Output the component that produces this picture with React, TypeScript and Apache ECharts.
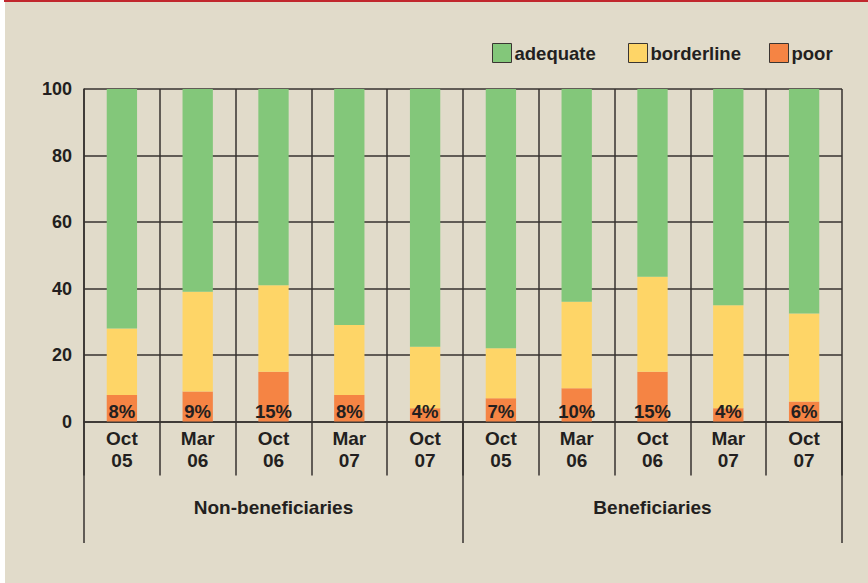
import React, { useEffect, useRef } from "react";
import * as echarts from "echarts";

const categories = [
  "Oct\n05", "Mar\n06", "Oct\n06", "Mar\n07", "Oct\n07",
  "Oct\n05", "Mar\n06", "Oct\n06", "Mar\n07", "Oct\n07",
];
const groups = ["Non-beneficiaries", "Beneficiaries"];
const poor = [8, 9, 15, 8, 4, 7, 10, 15, 4, 6];
const borderline = [20, 30, 26, 21, 18.5, 15, 26, 28.5, 31, 26.5];
const adequate = [72, 61, 59, 71, 77.5, 78, 64, 56.5, 65, 67.5];
const yTicks = { min: 0, max: 100, interval: 20 };

const FONT = "'Liberation Sans', Arial, Helvetica, sans-serif";
const TEXT = "#231f20";
const LINE = "#36322f";
const GREEN = "#83c77a";
const YELLOW = "#fed567";
const ORANGE = "#f58444";

export default function App() {
  const ref = useRef<HTMLDivElement>(null);
  useEffect(() => {
    if (!ref.current) return;
    const chart = echarts.init(ref.current, null, { renderer: "svg" });
    const legendBase = (name: string, left: number) => ({
      data: [name],
      left,
      top: 38,
      itemWidth: 19,
      itemHeight: 19,
      icon: "rect",
      itemStyle: { borderColor: "#3a3532", borderWidth: 1 },
      textStyle: { fontFamily: FONT, fontWeight: "bold", fontSize: 18.5, color: TEXT, padding: [0, 0, 0, -2] },
      selectedMode: false,
    });
    chart.setOption({
      animation: false,
      legend: [
        legendBase("adequate", 487),
        legendBase("borderline", 623),
        legendBase("poor", 764),
      ],
      grid: { left: 84, right: 26, top: 89, bottom: 161.5, containLabel: false },
      xAxis: [
        {
          type: "category",
          data: categories,
          position: "bottom",
          axisLine: { show: true, lineStyle: { color: LINE, width: 1.5 } },
          axisTick: { show: true, interval: 0, length: 54, lineStyle: { color: LINE, width: 1.5 } },
          splitLine: { show: true, interval: 0, lineStyle: { color: LINE, width: 1.5 } },
          axisLabel: {
            interval: 0,
            margin: 6,
            fontFamily: FONT,
            fontWeight: "bold",
            fontSize: 19,
            lineHeight: 22,
            color: TEXT,
          },
        },
        {
          type: "category",
          data: groups,
          position: "bottom",
          axisLine: { show: false },
          axisTick: { show: true, interval: 0, length: 121.5, lineStyle: { color: LINE, width: 1.5 } },
          splitLine: { show: false },
          axisLabel: {
            interval: 0,
            margin: 76,
            fontFamily: FONT,
            fontWeight: "bold",
            fontSize: 19,
            color: TEXT,
          },
        },
      ],
      yAxis: {
        type: "value",
        min: yTicks.min,
        max: yTicks.max,
        interval: yTicks.interval,
        axisLine: { show: true, lineStyle: { color: LINE, width: 1.5 } },
        axisTick: { show: false },
        splitLine: { show: true, lineStyle: { color: LINE, width: 1.5 } },
        axisLabel: {
          margin: 12,
          fontFamily: FONT,
          fontWeight: "bold",
          fontSize: 18,
          color: TEXT,
        },
      },
      series: [
        {
          name: "poor",
          type: "bar",
          stack: "total",
          data: poor,
          barWidth: "40%",
          itemStyle: { color: ORANGE },
          label: {
            show: true,
            position: "insideBottom",
            distance: 1,
            formatter: "{c}%",
            fontFamily: FONT,
            fontWeight: "bold",
            fontSize: 18.5,
            color: TEXT,
          },
        },
        {
          name: "borderline",
          type: "bar",
          stack: "total",
          data: borderline,
          barWidth: "40%",
          itemStyle: { color: YELLOW },
        },
        {
          name: "adequate",
          type: "bar",
          stack: "total",
          data: adequate,
          barWidth: "40%",
          itemStyle: { color: GREEN },
        },
      ],
    });
    return () => chart.dispose();
  }, []);

  return (
    <div style={{ position: "fixed", left: 0, top: 0, width: 868, height: 583, background: "#ffffff", overflow: "hidden" }}>
      <div style={{ position: "absolute", left: 5, top: 0, width: 863, height: 583, background: "#e1dbca" }} />
      <div style={{ position: "absolute", left: 4, top: 0, width: 864, height: 2, background: "#c1272d" }} />
      <div ref={ref} style={{ position: "absolute", left: 0, top: 0, width: 868, height: 583 }} />
    </div>
  );
}
